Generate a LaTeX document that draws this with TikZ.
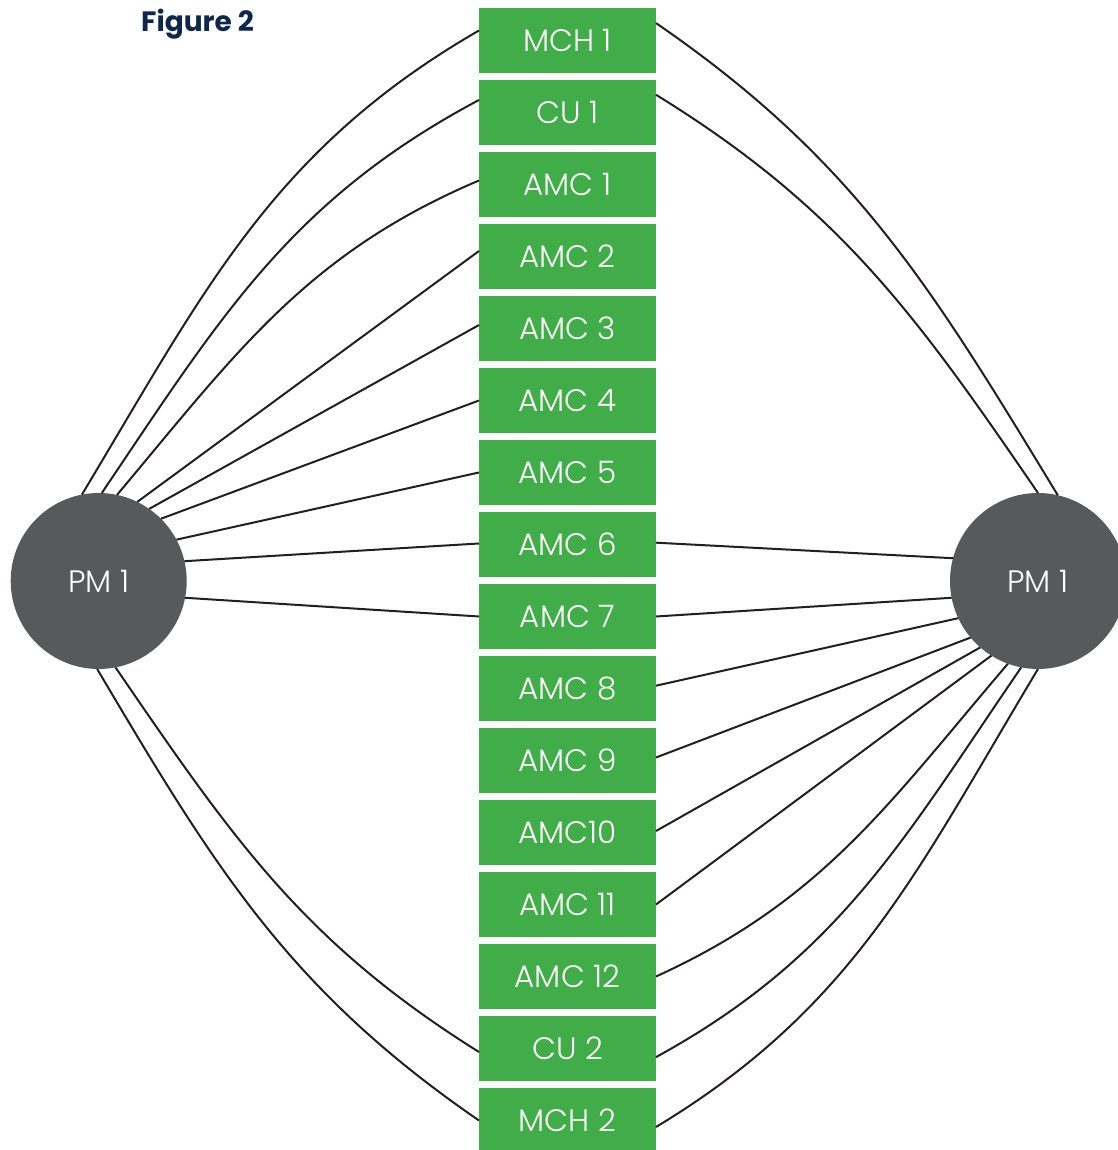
\documentclass[tikz,border=0pt]{standalone}
\usepackage{fontspec}
\IfFontExistsTF{Poppins Light}{\newfontfamily\labelfont{Poppins Light}}{\newfontfamily\labelfont{Poppins}}
\newfontfamily\titlefont{Poppins}
\usepackage{tikz}
\definecolor{boxgreen}{RGB}{65,173,73}
\definecolor{pmgrey}{RGB}{88,89,91}
\definecolor{titleblue}{RGB}{14,40,75}
\definecolor{wire}{RGB}{35,31,32}
\tikzset{
	card/.style={fill=boxgreen, text=white, minimum width=177pt, minimum height=65pt,
		inner sep=0pt, outer sep=0pt, font=\labelfont\fontsize{31}{31}\selectfont},
	pm/.style={circle, fill=pmgrey, text=white, minimum size=176pt,
		inner sep=0pt, outer sep=0pt, font=\labelfont\fontsize{31}{31}\selectfont},
	link/.style={draw=wire, line width=2pt},
	caption/.style={text=titleblue, inner sep=0pt, font=\titlefont\bfseries\fontsize{28}{28}\selectfont},
}

\begin{document}
\begin{tikzpicture}[x=1pt, y=1pt]
	\useasboundingbox (0,0) rectangle (1117,1150);
	\node[caption, anchor=base west] (fig) at (141,1118) {Figure 2};
	\node[card] (m1) at (567.5,1109.5) {MCH 1};
	\node[card] (c1) at (567.5,1037.5) {CU 1};
	\node[card] (a1) at (567.5,965.5) {AMC 1};
	\node[card] (a2) at (567.5,893.5) {AMC 2};
	\node[card] (a3) at (567.5,821.5) {AMC 3};
	\node[card] (a4) at (567.5,749.5) {AMC 4};
	\node[card] (a5) at (567.5,677.5) {AMC 5};
	\node[card] (a6) at (567.5,605.5) {AMC 6};
	\node[card] (a7) at (567.5,533.5) {AMC 7};
	\node[card] (a8) at (567.5,461.5) {AMC 8};
	\node[card] (a9) at (567.5,389.5) {AMC 9};
	\node[card] (a10) at (567.5,317.5) {AMC10};
	\node[card] (a11) at (567.5,245.5) {AMC 11};
	\node[card] (a12) at (567.5,173.5) {AMC 12};
	\node[card] (c2) at (567.5,101.5) {CU 2};
	\node[card] (m2) at (567.5,29.5) {MCH 2};
	\node[pm] (pmL) at (98.7,569) {PM 1};
	\node[pm] (pmR) at (1038,569) {PM 1};
	\draw[link] (pmL.101.7) to[out=59,in=210] ([yshift=10pt]m1.west);
	\draw[link] (pmL.88.7) to[out=56,in=208] ([yshift=12.5pt]c1.west);
	\draw[link] (pmL.78.4) to[out=50,in=203] ([yshift=4pt]a1.west);
	\draw[link] (pmL.64.7) -- ([yshift=5.5pt]a2.west);
	\draw[link] (pmL.55.2) -- ([yshift=3.5pt]a3.west);
	\draw[link] (pmL.45.3) -- (a4.west);
	\draw[link] (pmL.28.2) -- (a5.west);
	\draw[link] (pmL.13.7) -- ([yshift=1pt]a6.west);
	\draw[link] (pmL.-11.8) -- (a7.west);
	\draw[link] (pmL.-79.4) to[out=-55.6,in=148] ([yshift=-3.5pt]c2.west);
	\draw[link] (pmL.-91) to[out=-59.4,in=145.5] (m2.west);
	\draw[link] (pmR.77.1) to[out=121.3,in=-34.5] ([yshift=17.4pt]m1.east);
	\draw[link] (pmR.90.8) to[out=124.4,in=-31.6] ([yshift=17.7pt]c1.east);
	\draw[link] (pmR.165.9) -- ([yshift=1.8pt]a6.east);
	\draw[link] (pmR.191.3) -- (a7.east);
	\draw[link] (pmR.205.1) -- ([yshift=2.8pt]a8.east);
	\draw[link] (pmR.220.8) -- ([yshift=3pt]a9.east);
	\draw[link] (pmR.229.2) -- ([yshift=1.5pt]a10.east);
	\draw[link] (pmR.238.5) -- (a11.east);
	\draw[link] (pmR.250.5) to[out=229.5,in=24.5] (a12.east);
	\draw[link] (pmR.259.4) to[out=235.6,in=28.7] ([yshift=-8.6pt]c2.east);
	\draw[link] (pmR.270.8) to[out=239,in=31.1] ([yshift=-6.5pt]m2.east);
\end{tikzpicture}
\end{document}
